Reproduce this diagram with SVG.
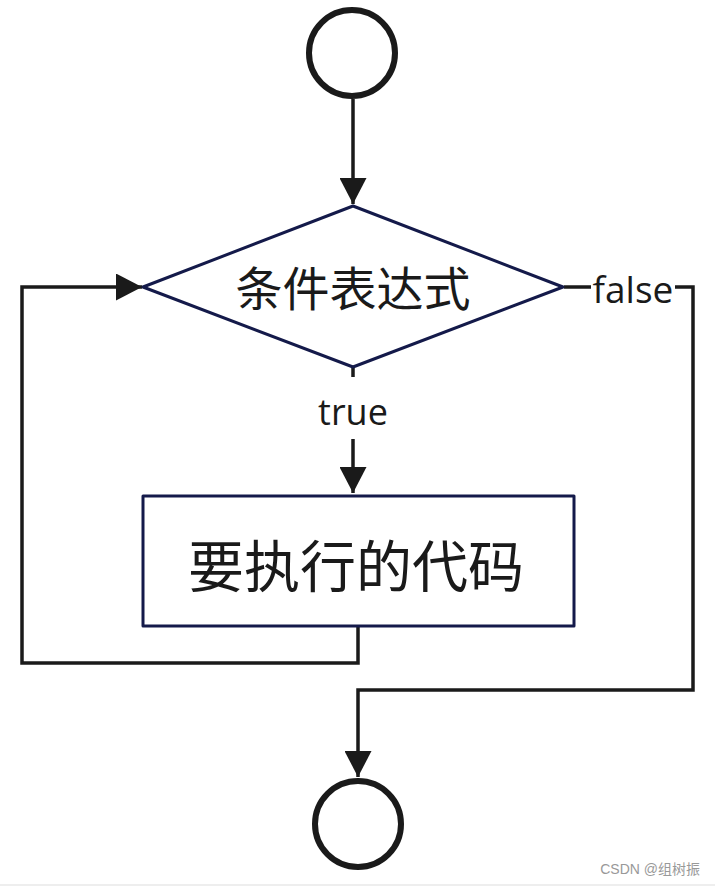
<svg xmlns="http://www.w3.org/2000/svg" width="715" height="886" viewBox="0 0 715 886">
<style>
.term{fill:#fff;stroke:#1a1a1a;stroke-width:6}
.shape{fill:#fff;stroke:#141a4a;stroke-width:3;stroke-linejoin:round}
.edge{fill:none;stroke:#1a1a1a;stroke-width:3.5;stroke-linejoin:miter}
.zh{font-family:"Noto Sans CJK SC","Noto Sans",sans-serif;fill:#1a1a1a;text-anchor:middle}
.lbl{font-family:"Open Sans","Liberation Sans",sans-serif;fill:#1a1a1a;text-anchor:middle}
</style>
<defs>
<marker id="arr" viewBox="0 0 26 27" refX="26" refY="13.5" markerWidth="26" markerHeight="27" markerUnits="userSpaceOnUse" orient="auto">
<path d="M0,0 L26,13.5 L0,27 Z" fill="#1a1a1a"/>
</marker>
</defs>
<rect width="715" height="886" fill="#fff"/>
<rect x="0" y="884" width="715" height="2" fill="#eeeeee"/>
<g id="connectors">
<path class="edge" d="M353,99 L353,204" marker-end="url(#arr)"/>
<path class="edge" d="M353,368 L353,377"/>
<path class="edge" d="M353,439 L353,493" marker-end="url(#arr)"/>
<path class="edge" d="M358,627 L358,663 L22,663 L22,287 L142,287" marker-end="url(#arr)"/>
<path class="edge" d="M564,287 L591,287"/>
<path class="edge" d="M675,287 L693,287 L693,690 L358,690 L358,777" marker-end="url(#arr)"/>
</g>
<g id="start">
<circle class="term" cx="352" cy="53" r="43"/>
</g>
<g id="condition">
<polygon class="shape" points="353,206 563,287 353,367 143,287"/>
<text class="zh" x="353" y="306" font-size="47">条件表达式</text>
</g>
<g id="body">
<rect class="shape" x="143" y="496" width="431" height="130"/>
<text class="zh" x="356" y="587" font-size="56">要执行的代码</text>
</g>
<g id="end">
<circle class="term" cx="358" cy="824" r="43"/>
</g>
<g id="labels">
<text class="lbl" x="353" y="425" font-size="36">true</text>
<text class="lbl" x="633" y="303" font-size="37">false</text>
</g>
<text x="700" y="874" font-family="Liberation Sans,'Noto Sans CJK SC',sans-serif" font-size="14" fill="#999" text-anchor="end">CSDN @组树振</text>
</svg>
